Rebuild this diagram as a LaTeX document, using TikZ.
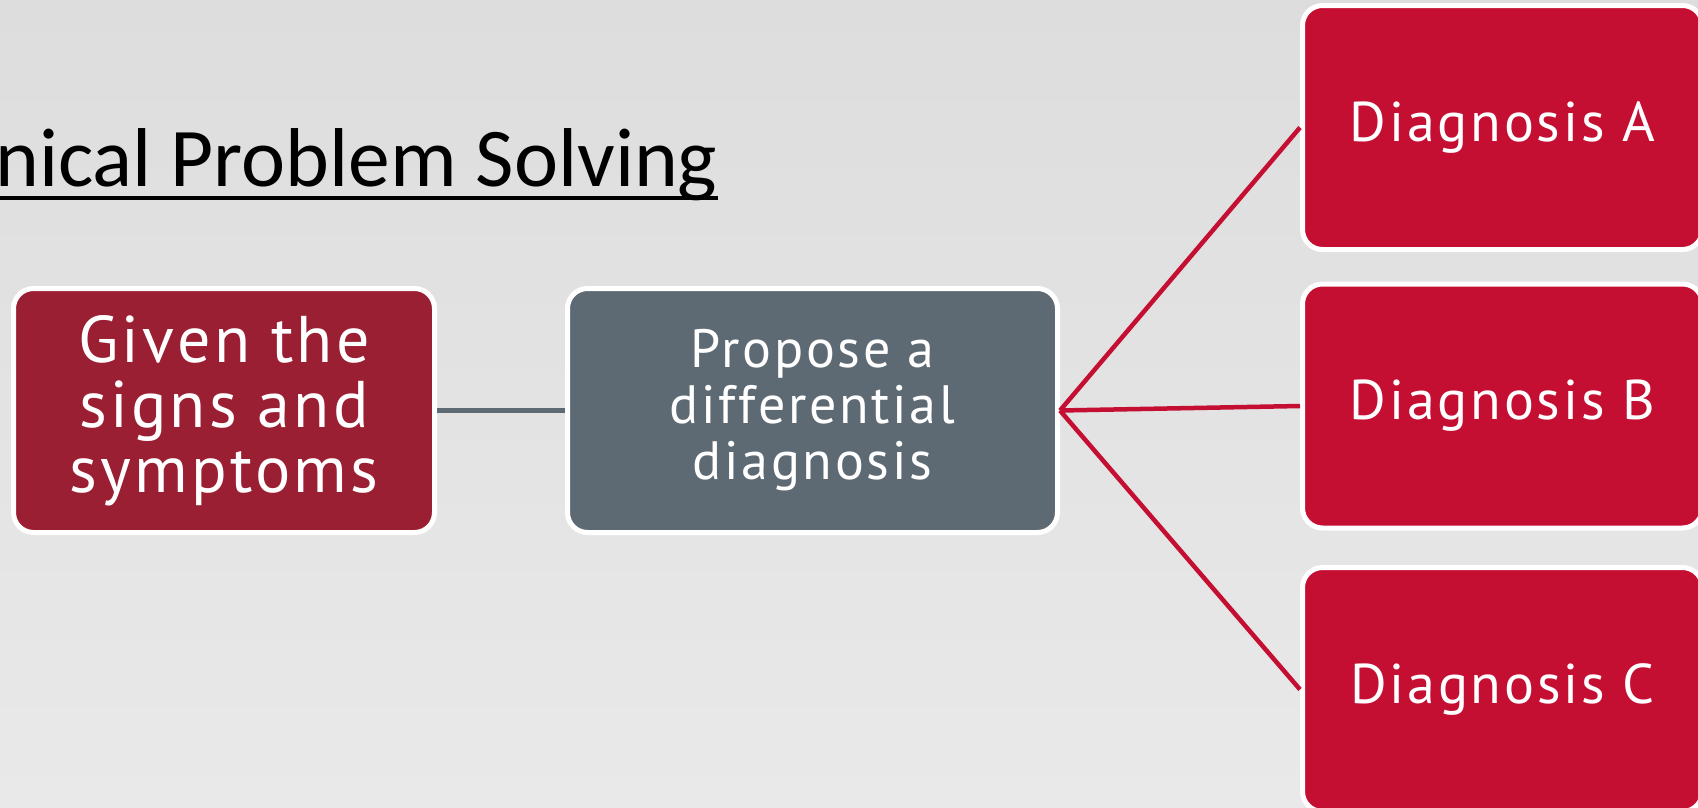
\documentclass[tikz,border=0pt]{standalone}
\usepackage{fontspec}
\usetikzlibrary{calc}
\newfontfamily\boxfont[LetterSpace=5]{PT Sans}
\newfontfamily\titlefont{Carlito}
\definecolor{bgtop}{RGB}{221,221,221}
\definecolor{bgbottom}{RGB}{233,233,233}
\definecolor{signred}{RGB}{155,31,51}
\definecolor{slate}{RGB}{94,106,115}
\definecolor{dxred}{RGB}{196,14,50}
\tikzset{
  card/.style={draw=white,line width=5pt,rounded corners=20pt,align=center,text=white,minimum height=244pt,inner sep=0pt},
  signcard/.style={card,fill=signred,minimum width=421pt,font=\boxfont\fontsize{66}{65}\selectfont},
  diffcard/.style={card,fill=slate,minimum width=490pt,font=\boxfont\fontsize{54}{56}\selectfont},
  dxcard/.style={card,fill=dxred,minimum width=400pt,font=\boxfont\fontsize{56}{60}\selectfont},
  greylink/.style={draw=slate,line width=5pt},
  redlink/.style={draw=dxred,line width=4.5pt}
}

\begin{document}
\begin{tikzpicture}[x=1pt,y=-1pt]
  \useasboundingbox (0,0) rectangle (1698,807);
  \fill[top color=bgtop,bottom color=bgbottom] (0,0) rectangle (1698,807);
  % heading, runs off the left edge
  \node[font=\titlefont\fontsize{83.5}{98}\selectfont,anchor=base west,inner sep=0pt] (title) at (-5,186) {nical Problem Solving};
  \draw[line width=3.5pt] ($(title.base west)+(0,12)$) -- ($(title.base east)+(0,12)$);
  \node[signcard] (signs) at (224,410.5)   {Given the\\signs and\\symptoms};
  \node[diffcard] (ddx) at (812.5,410.5)   {Propose a\\differential\\diagnosis};
  \node[dxcard] (dxA) at (1502.5,127.5)    {Diagnosis A};
  \node[dxcard] (dxB) at (1502.5,406)      {Diagnosis B};
  \node[dxcard] (dxC) at (1502.5,689.5)    {Diagnosis C};
  \draw[greylink] (signs) -- (ddx);
  \draw[redlink] (ddx.east) -- (dxA.west);
  \draw[redlink] (ddx.east) -- (dxB.west);
  \draw[redlink] (ddx.east) -- (dxC.west);
\end{tikzpicture}
\end{document}
